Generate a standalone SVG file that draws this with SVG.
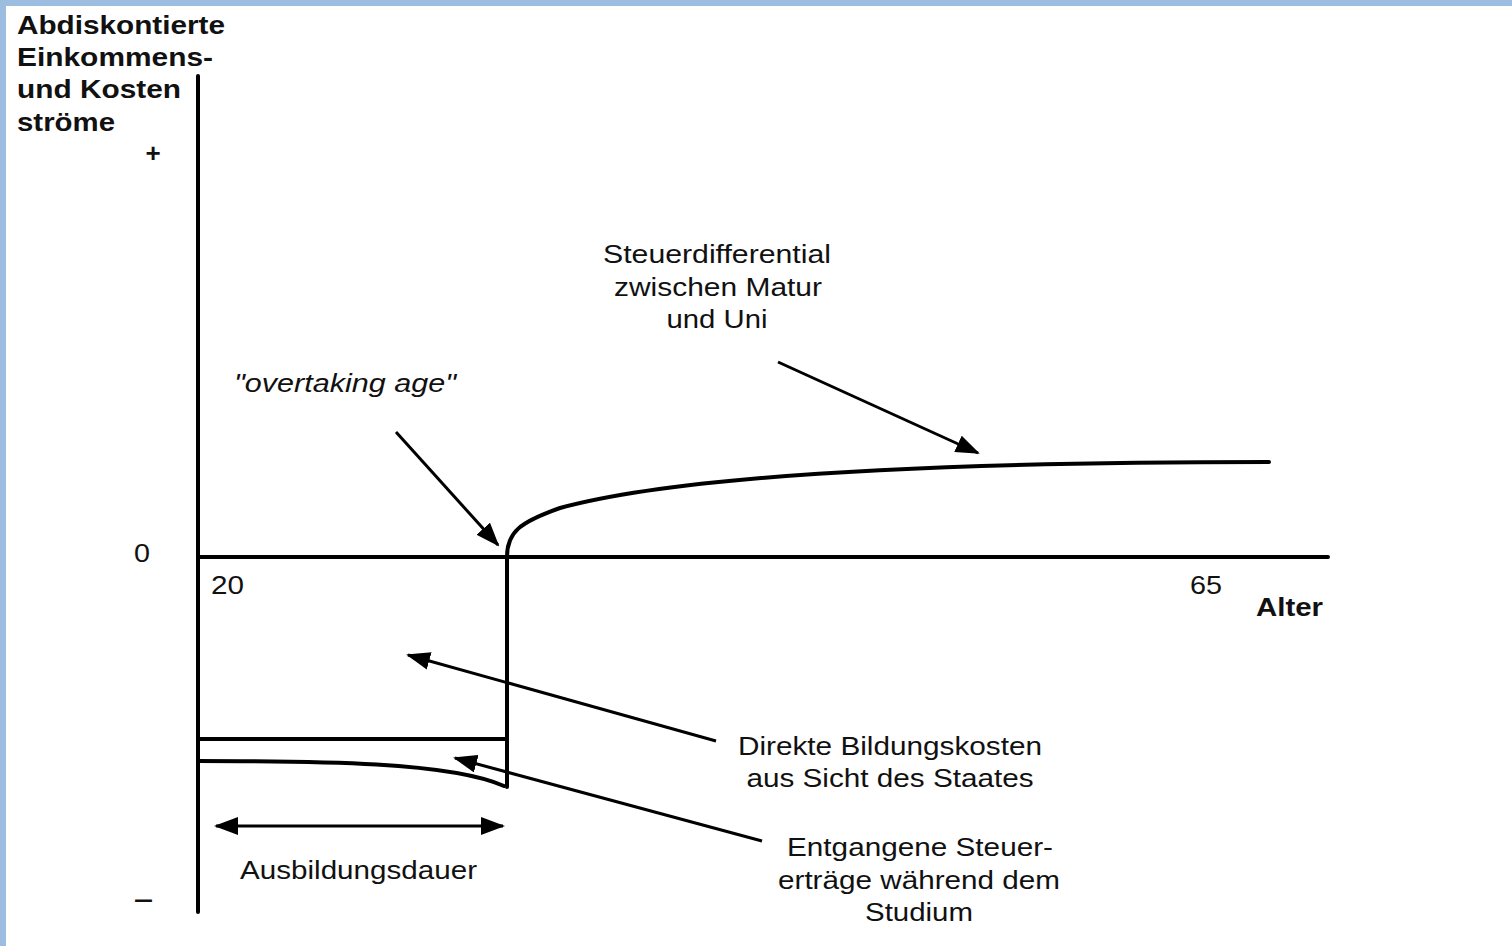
<svg xmlns="http://www.w3.org/2000/svg" width="1512" height="946" viewBox="0 0 1512 946">
<defs>
<style>
.t{font-family:"Liberation Sans",Arial,sans-serif;font-size:26px;fill:#111;}
.b{font-weight:bold;}
.i{font-style:italic;}
.ln{stroke:#000;stroke-width:4;fill:none;stroke-linecap:round;}
.ar{stroke:#000;stroke-width:3;fill:none;}
</style>
<marker id="ah" viewBox="0 0 24 18" refX="22" refY="9" markerWidth="24" markerHeight="18" markerUnits="userSpaceOnUse" orient="auto-start-reverse">
<path d="M0,0 L24,9 L0,18 z" fill="#000"/>
</marker>
</defs>
<rect x="0" y="0" width="1512" height="946" fill="#fff"/>
<rect x="0" y="0" width="1512" height="6" fill="#9dbde0"/>
<rect x="0" y="0" width="6" height="946" fill="#9dbde0"/>

<g id="axes">
<line class="ln" x1="198" y1="76" x2="198" y2="912"/>
<line class="ln" x1="198" y1="557" x2="1328" y2="557"/>
</g>

<g id="curves">
<path class="ln" d="M507,557 C507,532 520,522 560,508 C700,470 1000,462 1269,462"/>
<path class="ln" d="M507,557 L507,787"/>
<line class="ln" x1="198" y1="739" x2="507" y2="739"/>
<path class="ln" d="M198,761 C320,761 450,762 504,786"/>
</g>

<g id="connectors">
<line class="ar" x1="396" y1="432" x2="498" y2="545" marker-end="url(#ah)"/>
<line class="ar" x1="778" y1="362" x2="978" y2="453" marker-end="url(#ah)"/>
<line class="ar" x1="716" y1="741" x2="408" y2="655" marker-end="url(#ah)"/>
<line class="ar" x1="762" y1="841" x2="455" y2="758" marker-end="url(#ah)"/>
<line class="ar" x1="216" y1="826" x2="503" y2="826" marker-start="url(#ah)" marker-end="url(#ah)"/>
</g>

<g id="ylabel">
<text class="t b" x="17" y="34" textLength="208" lengthAdjust="spacingAndGlyphs">Abdiskontierte</text>
<text class="t b" x="17" y="66" textLength="196" lengthAdjust="spacingAndGlyphs">Einkommens-</text>
<text class="t b" x="17" y="98" textLength="164" lengthAdjust="spacingAndGlyphs">und Kosten</text>
<text class="t b" x="17" y="131" textLength="98" lengthAdjust="spacingAndGlyphs">ströme</text>
<text class="t b" x="153" y="162" text-anchor="middle">+</text>
<text class="t b" x="134" y="908" textLength="19" lengthAdjust="spacingAndGlyphs">–</text>
</g>

<g id="ticks">
<text class="t" x="134" y="562" textLength="16" lengthAdjust="spacingAndGlyphs">0</text>
<text class="t" x="211" y="594" textLength="33" lengthAdjust="spacingAndGlyphs">20</text>
<text class="t" x="1190" y="594" textLength="32" lengthAdjust="spacingAndGlyphs">65</text>
<text class="t b" x="1256" y="616" textLength="67" lengthAdjust="spacingAndGlyphs">Alter</text>
</g>

<g id="overtaking">
<text class="t i" x="234" y="392" textLength="222" lengthAdjust="spacingAndGlyphs">"overtaking age"</text>
</g>

<g id="steuerdifferential">
<text class="t" x="717" y="263" text-anchor="middle" textLength="228" lengthAdjust="spacingAndGlyphs">Steuerdifferential</text>
<text class="t" x="718" y="296" text-anchor="middle" textLength="208" lengthAdjust="spacingAndGlyphs">zwischen Matur</text>
<text class="t" x="717" y="328" text-anchor="middle" textLength="101" lengthAdjust="spacingAndGlyphs">und Uni</text>
</g>

<g id="direkte">
<text class="t" x="890" y="755" text-anchor="middle" textLength="304" lengthAdjust="spacingAndGlyphs">Direkte Bildungskosten</text>
<text class="t" x="890" y="787" text-anchor="middle" textLength="287" lengthAdjust="spacingAndGlyphs">aus Sicht des Staates</text>
</g>

<g id="entgangene">
<text class="t" x="920" y="856" text-anchor="middle" textLength="266" lengthAdjust="spacingAndGlyphs">Entgangene Steuer-</text>
<text class="t" x="919" y="889" text-anchor="middle" textLength="282" lengthAdjust="spacingAndGlyphs">erträge während dem</text>
<text class="t" x="919" y="921" text-anchor="middle" textLength="108" lengthAdjust="spacingAndGlyphs">Studium</text>
</g>

<g id="ausbildung">
<text class="t" x="240" y="879" textLength="237" lengthAdjust="spacingAndGlyphs">Ausbildungsdauer</text>
</g>
</svg>
